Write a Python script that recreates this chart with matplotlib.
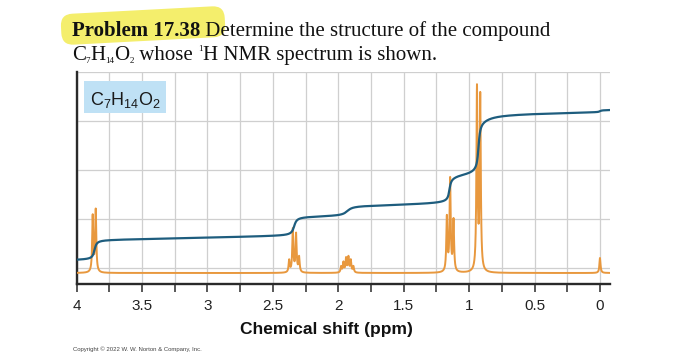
import numpy as np
import matplotlib
matplotlib.use('Agg')
import matplotlib.pyplot as plt
from matplotlib.patches import FancyBboxPatch, Rectangle
from matplotlib.ticker import MultipleLocator, FixedLocator
import matplotlib.transforms as mtransforms

plt.rcParams['mathtext.fontset'] = 'custom'
plt.rcParams['mathtext.rm'] = 'Liberation Serif'
plt.rcParams['mathtext.sf'] = 'Liberation Sans'

# ---------------- data ----------------
peak_ppm = [3.876, 3.853,
            2.375, 2.347, 2.322, 2.299,
            1.978, 1.960, 1.940, 1.922, 1.904, 1.884,
            1.170, 1.145, 1.119,
            0.940, 0.915,
            0.000]
peak_height = [56, 62,
               12, 43, 38, 15,
               6, 10, 14, 15, 12, 6,
               54, 92, 51,
               182, 174,
               15]
line_hwhm = 0.005

integral_start = 12.5
integral_drift = 2.5
step_center = [3.862, 2.337, 1.930, 1.150, 1.120, 0.928, 0.900, 0.000]
step_height = [20, 19, 10, 24, 4, 52, 10, 2]
step_width = [0.012, 0.015, 0.030, 0.010, 0.050, 0.010, 0.080, 0.010]

tick_values = [4, 3.5, 3, 2.5, 2, 1.5, 1, 0.5, 0]
tick_labels = ['4', '3.5', '3', '2.5', '2', '1.5', '1', '0.5', '0']
hgrid_values = [5, 54, 103, 152, 201]

title_bold = 'Problem 17.38'
title_rest = ' Determine the structure of the compound'
# (text, is_script, script_offset_px)
title_line2 = [('C', 0), ('7', -1), ('H', 0), ('14', -1), ('O', 0), ('2', -1),
               (' whose ', 0), ('1', 1), ('H NMR spectrum is shown.', 0)]
formula_label = r'C$_\mathsf{7}$H$_\mathsf{14}$O$_\mathsf{2}$'
xlabel = 'Chemical shift (ppm)'
copyright_text = 'Copyright \u00a9 2022 W. W. Norton & Company, Inc.'

# ---------------- figure ----------------
W, H = 700, 363
fig = plt.figure(figsize=(W / 100, H / 100), dpi=100)
fig.patch.set_facecolor('white')

ax = fig.add_axes([76.5 / W, 1 - 284 / H, (610 - 76.5) / W, (284 - 72) / H])
ax.set_xlim(4, -0.0765)
ax.set_ylim(-11, 201)

ppm = np.arange(-0.08, 4.0005, 0.0005)
spec = np.zeros_like(ppm)
for c, h in zip(peak_ppm, peak_height):
    spec += h * line_hwhm ** 2 / ((ppm - c) ** 2 + line_hwhm ** 2)

integ = integral_start + integral_drift * (4 - ppm)
for c, h, w in zip(step_center, step_height, step_width):
    integ += h * (0.5 + np.arctan((c - ppm) / w) / np.pi)

ax.plot(ppm, spec, color='#e8983e', lw=1.4, zorder=3)
ax.plot(ppm, integ, color='#1e5d7e', lw=1.6, zorder=4)

# axes styling
for s in ['top', 'right']:
    ax.spines[s].set_visible(False)
for s in ['left', 'bottom']:
    ax.spines[s].set_color('#2a2a2a')
    ax.spines[s].set_linewidth(1.7)

ax.xaxis.set_major_locator(FixedLocator(tick_values))
ax.set_xticklabels(tick_labels)
ax.xaxis.set_minor_locator(MultipleLocator(0.25))
ax.tick_params(axis='x', which='both', direction='out', length=6, width=1.1,
               color='#2a2a2a', labelsize=11, labelcolor='#222222', pad=5)
ax.set_yticks(hgrid_values)
ax.tick_params(axis='y', which='both', length=0, labelleft=False)
ax.grid(True, which='both', color='#cfcfcf', lw=0.9, zorder=0)
ax.set_axisbelow(True)
for t in ax.get_xticklabels():
    t.set_fontfamily('Liberation Sans')

ax.set_xlabel(xlabel, fontfamily='Liberation Sans', fontweight='bold',
              fontsize=12.5, labelpad=6, color='#111111')
ax.xaxis.label.set_x((326 - 76.5) / (610 - 76.5))

# formula box
inch = fig.dpi_scale_trans
fig.patches.append(Rectangle((0.84, (H - 113) / 100), 0.82, 0.32,
                             transform=inch, facecolor='#bfe1f5',
                             edgecolor='none', zorder=5))
fig.text(90 / W, 1 - 105 / H, formula_label, fontfamily='Liberation Sans',
         fontsize=13, va='baseline', ha='left', color='#1a1a1a', zorder=6)

# title highlight
rot = mtransforms.Affine2D().rotate_deg_around(1.43, (H - 25) / 100, 3)
hl = FancyBboxPatch((0.65, (H - 37) / 100), 1.56, 0.23,
                    boxstyle='round,pad=0.04,rounding_size=0.12',
                    transform=rot + inch, facecolor='#f4ee6c',
                    edgecolor='none', zorder=1)
fig.patches.append(hl)

renderer = fig.canvas.get_renderer()


def put(x_px, base_px, s, size, weight='normal'):
    t = fig.text(x_px / W, 1 - base_px / H, s, fontfamily='Liberation Serif',
                 fontweight=weight, fontsize=size, va='baseline', ha='left',
                 zorder=3, color='#111111')
    bb = t.get_window_extent(renderer=renderer)
    return x_px + bb.width


x = put(72, 36, title_bold, 15, 'bold')
put(x, 36, title_rest, 15)

x = 72
for s, script in title_line2:
    if script == 0:
        x = put(x, 60, s, 15)
    elif script < 0:
        x = put(x, 63, s, 6.5)
    else:
        x = put(x, 51, s, 6.5)

fig.text(73 / W, 1 - 351 / H, copyright_text, fontfamily='Liberation Sans',
         fontsize=4.3, color='#444444', va='baseline', ha='left')

fig.savefig('out.png', dpi=100)
